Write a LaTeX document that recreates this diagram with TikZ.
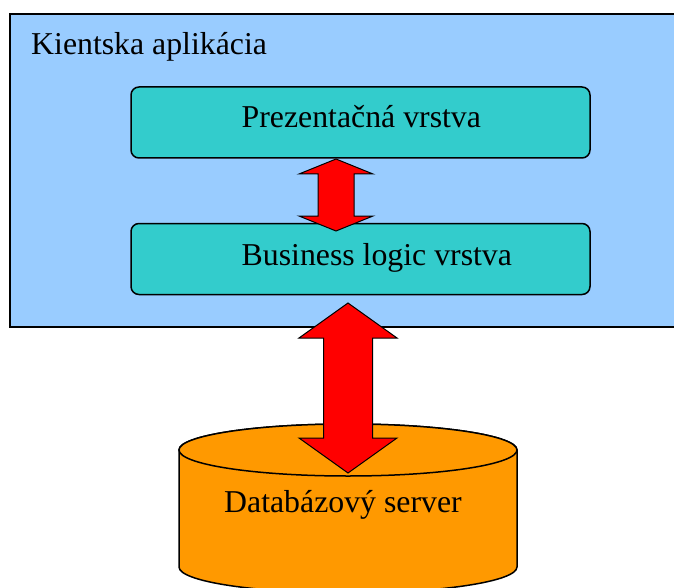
\documentclass[tikz,border=0pt]{standalone}
\usepackage{fontspec}
\setmainfont{Liberation Serif}
\usetikzlibrary{calc}

\definecolor{clientblue}{HTML}{99CCFF}
\definecolor{layerteal}{HTML}{33CCCC}
\definecolor{dborange}{HTML}{FF9900}
\definecolor{arrowred}{HTML}{FF0000}

\tikzset{
  labeltext/.style={inner sep=0pt, anchor=base west, font=\fontsize{31.8}{38}\selectfont},
  clientbox/.style={draw=black, line width=2pt, fill=clientblue},
  layerbox/.style={draw=black, line width=1.5pt, fill=layerteal, rounded corners=8pt,
                   minimum width=459pt, minimum height=71pt, inner sep=0pt},
  dbbody/.style={draw=black, line width=1.5pt, fill=dborange},
  twoway/.style={draw=black, line width=1pt, fill=arrowred, line join=miter},
}

% double-headed block arrow: #1 top tip, #2 bottom tip,
% #3 head half width, #4 head length, #5 shaft half width
\newcommand{\twowayarrow}[5]{%
  \draw[twoway] (#1)
    -- ($(#1)+(#3,#4)$) -- ($(#1)+(#5,#4)$)
    -- ($(#2)+(#5,-#4)$) -- ($(#2)+(#3,-#4)$)
    -- (#2)
    -- ($(#2)+(-#3,-#4)$) -- ($(#2)+(-#5,-#4)$)
    -- ($(#1)+(-#5,#4)$) -- ($(#1)+(-#3,#4)$)
    -- cycle;}

\begin{document}
\begin{tikzpicture}[x=1pt, y=-1pt]
  \useasboundingbox (0,0) rectangle (674,588);
  \clip (0,0) rectangle (674,588);

  % client application frame
  \draw[clientbox] (10,14) rectangle (690,327);
  \node[labeltext] (client) at (31,55) {Kientska aplikácia};

  % application layers
  \node[layerbox] (prez) at (360.5,122.5) {};
  \node[labeltext] (prezt) at (241.5,128) {Prezentačná vrstva};
  \node[layerbox] (logic) at (360.5,259) {};
  \node[labeltext] (logict) at (241.5,265.7) {Business logic vrstva};

  % link between the two layers
  \coordinate (a1) at (336,159);
  \coordinate (a2) at (336,231);
  \twowayarrow{a1}{a2}{37}{15}{18}

  % database server cylinder
  \draw[dbbody] (179,450) -- (179,567)
    arc[start angle=180, end angle=0, x radius=169, y radius=26]
    -- (517,450)
    arc[start angle=0, end angle=-180, x radius=169, y radius=26] -- cycle;
  \draw[dbbody] (348,450) ellipse[x radius=169, y radius=26];
  \node[labeltext] (db) at (224,512) {Databázový server};

  % link between the client and the database
  \coordinate (b1) at (348,303);
  \coordinate (b2) at (348,473);
  \twowayarrow{b1}{b2}{49}{35}{24.5}
\end{tikzpicture}
\end{document}
